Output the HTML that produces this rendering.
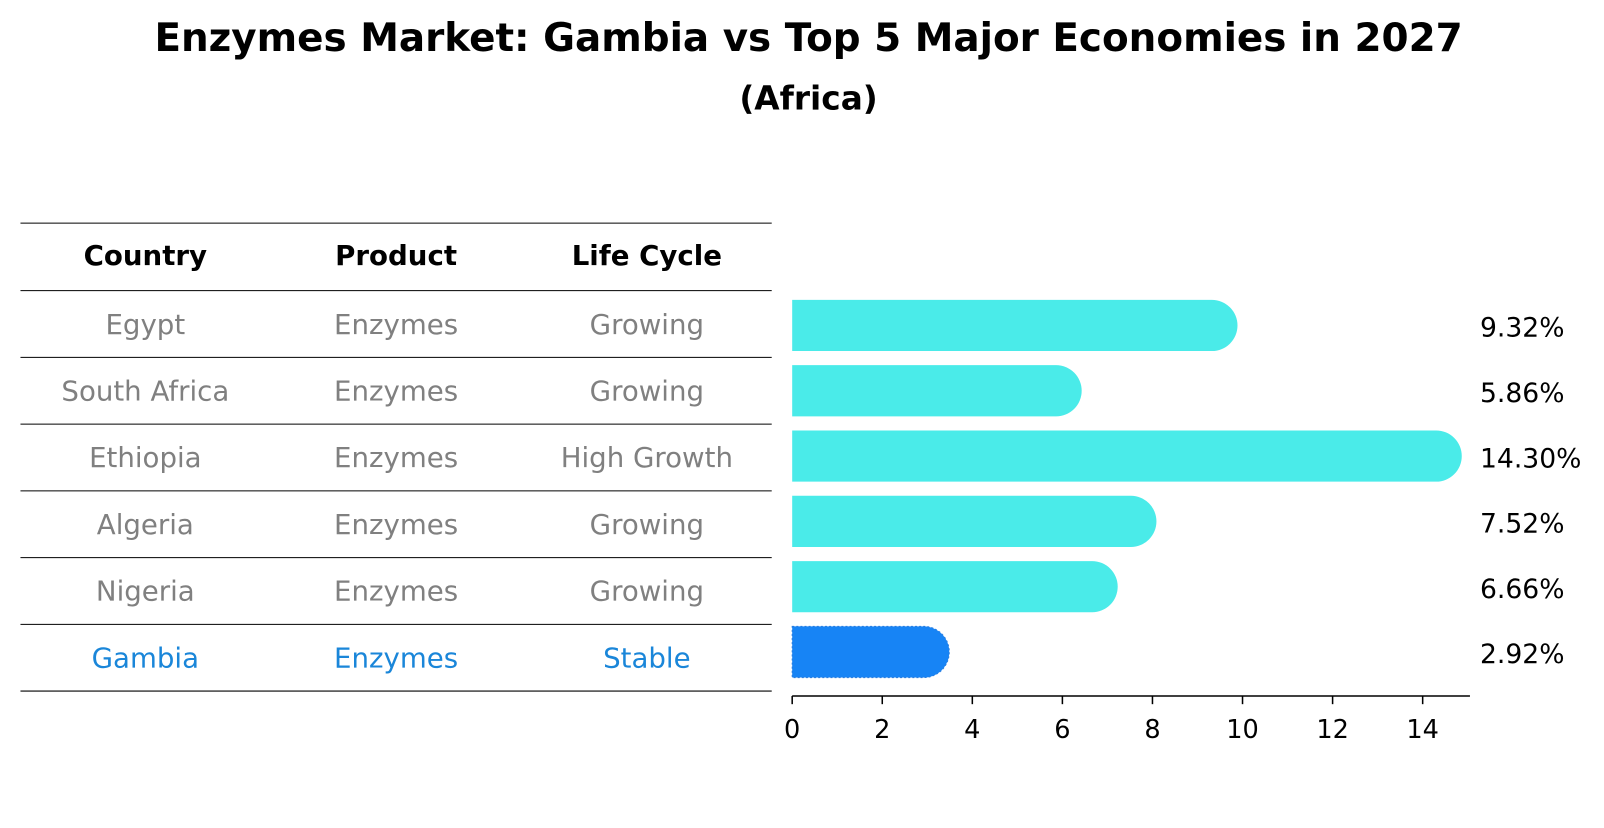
<!DOCTYPE html>
<html><head><meta charset="utf-8"><style>
body{margin:0;background:#fff;}
</style></head><body>
<svg width="1604" height="823" viewBox="0 0 1604 823" xmlns="http://www.w3.org/2000/svg" font-family="DejaVu Sans, Liberation Sans, sans-serif">
<g transform="scale(1.0235)">
<text x="790" y="50" text-anchor="middle" font-size="38" font-weight="bold">Enzymes Market: Gambia vs Top 5 Major Economies in 2027</text>
<text x="790" y="107" text-anchor="middle" font-size="32" font-weight="bold">(Africa)</text>
<g id="table"></g>
<g id="bars"></g>
<g id="axis"></g>
</g>
</svg>
<script>
const countries=["Egypt","South Africa","Ethiopia","Algeria","Nigeria","Gambia"];
const products=["Enzymes","Enzymes","Enzymes","Enzymes","Enzymes","Enzymes"];
const lifecycle=["Growing","Growing","High Growth","Growing","Growing","Stable"];
const values=[9.32,5.86,14.30,7.52,6.66,2.92];
const ticks=[0,2,4,6,8,10,12,14];
const NS="http://www.w3.org/2000/svg";
function mk(t,a,p){const e=document.createElementNS(NS,t);for(const k in a)e.setAttribute(k,a[k]);p.appendChild(e);return e;}
const x0=774,ppu=44,xmax=15.05;
const X=v=>x0+v*ppu;
const rowTop=284,rowH=65.2;
const Y=i=>rowTop+rowH*i+rowH/2;
const tb=document.getElementById('table'),bg=document.getElementById('bars'),ax=document.getElementById('axis');
const cols=[142,387,632];
let l=mk('line',{x1:20,x2:754,y1:218,y2:218,stroke:'#000','stroke-width':1},tb);


["Country","Product","Life Cycle"].forEach((h,j)=>{
 const t=mk('text',{x:cols[j],y:259,'text-anchor':'middle','font-size':27,'font-weight':'bold'},tb);t.textContent=h;
 
 
});
for(let i=0;i<=countries.length;i++){
 const ln=mk('line',{x1:20,x2:754,y1:rowTop+rowH*i,y2:rowTop+rowH*i,stroke:'#000','stroke-width':1},tb);
 
 
}
countries.forEach((c,i)=>{
 const col=i===countries.length-1?'#1a86d9':'#808080';
 [c,products[i],lifecycle[i]].forEach((s,j)=>{
  const t=mk('text',{x:cols[j],y:Y(i)+9.5,'text-anchor':'middle','font-size':27,fill:col},tb);t.textContent=s;
  
  
 });
});
const bh=50,r=25;
values.forEach((v,i)=>{
 const yc=318+i*63.8,x1=X(v),last=i===values.length-1;
 const d=`M${x0},${yc-bh/2} H${x1} A${r},${r} 0 0 1 ${x1},${yc+bh/2} H${x0} Z`;
 const p=mk('path',{d:d,fill:last?'#1784f5':'#4aebe9'},bg);
 if(last){p.setAttribute('stroke','#2a7ee0');p.setAttribute('stroke-dasharray','2,2');}
 
 
 const t=mk('text',{x:1446,y:yc+11,'font-size':26},bg);t.textContent=v.toFixed(2)+'%';
 
 
});
const ay=680;
const al=mk('line',{x1:x0,x2:X(xmax),y1:ay,y2:ay,stroke:'#000','stroke-width':1.5},ax);


ticks.forEach(tv=>{
 const tl=mk('line',{x1:X(tv),x2:X(tv),y1:ay,y2:ay+8,stroke:'#000','stroke-width':1.5},ax);
 
 
 const t=mk('text',{x:X(tv),y:ay+41,'text-anchor':'middle','font-size':25},ax);t.textContent=tv;
 
 
});
</script>
</body></html>
